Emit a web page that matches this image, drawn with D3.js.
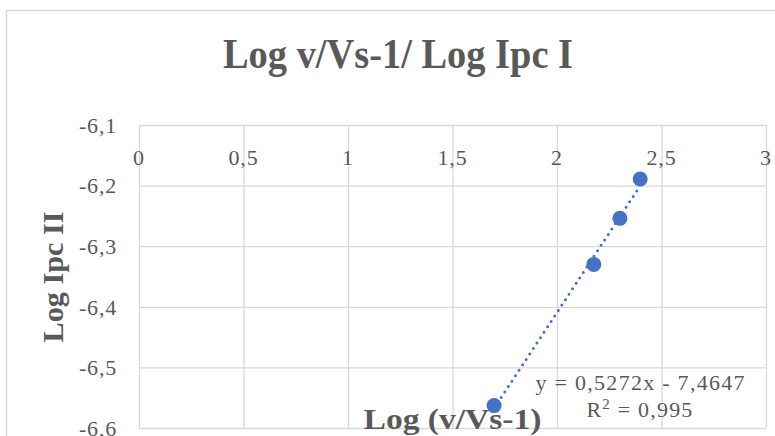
<!DOCTYPE html>
<html>
<head>
<meta charset="utf-8">
<script src="https://cdn.jsdelivr.net/npm/d3@7"></script>
<style>
  body { margin: 0; background: #fff; }
  text { font-family: "Liberation Serif", "DejaVu Serif", serif; fill: #595959; }
</style>
</head>
<body>
<script>
// data
var xValues = [1.699, 2.176, 2.301, 2.398];
var yValues = [-6.563, -6.330, -6.254, -6.189];
var xTicks = [0, 0.5, 1, 1.5, 2, 2.5, 3];
var yTicks = [-6.1, -6.2, -6.3, -6.4, -6.5, -6.6];
var titleText = "Log v/Vs-1/ Log Ipc I";
var xTitle = "Log (v/Vs-1)";
var yTitle = "Log Ipc II";
var eqText = "y = 0,5272x - 7,4647";

var width = 775, height = 436;
var fmt = function(d) { return String(d).replace(".", ","); };

var svg = d3.select("body")
  .append("svg")
  .attr("width", width)
  .attr("height", height);

// chart frame
svg.append("rect")
  .attr("x", 6.5)
  .attr("y", 10.5)
  .attr("width", 800)
  .attr("height", 500)
  .attr("fill", "#fff")
  .attr("stroke", "#d9d9d9")
  .attr("stroke-width", 1.5);

var x = d3.scaleLinear().domain([0, 3]).range([139, 766]);
var y = d3.scaleLinear().domain([-6.6, -6.1]).range([428, 125]);

// vertical gridlines
svg.append("g")
  .attr("transform", "translate(0," + y(-6.6) + ")")
  .call(d3.axisBottom(x).tickValues(xTicks).tickSize(-(y(-6.6) - y(-6.1))).tickFormat(""))
  .call(function(g) {
    g.select(".domain").remove();
    g.selectAll("line").attr("stroke", "#d9d9d9").attr("stroke-width", 1.3);
  });

// horizontal gridlines
svg.append("g")
  .attr("transform", "translate(" + x(0) + ",0)")
  .call(d3.axisLeft(y).tickValues(yTicks).tickSize(-(x(3) - x(0))).tickFormat(""))
  .call(function(g) {
    g.select(".domain").remove();
    g.selectAll("line").attr("stroke", "#d9d9d9").attr("stroke-width", 1.3);
  });

// y tick labels
svg.selectAll(".ylab")
  .data(yTicks)
  .enter()
  .append("text")
  .attr("x", 117)
  .attr("y", function(d) { return y(d); })
  .attr("dy", "0.35em")
  .style("text-anchor", "end")
  .style("font-size", "22px")
  .style("letter-spacing", "0.8px")
  .text(fmt);

// x tick labels (axis crosses at the top)
svg.selectAll(".xlab")
  .data(xTicks)
  .enter()
  .append("text")
  .attr("x", function(d) { return x(d); })
  .attr("y", y(-6.1) + 32)
  .attr("dy", "0.35em")
  .style("text-anchor", "middle")
  .style("font-size", "22px")
  .style("letter-spacing", "0.8px")
  .text(fmt);

// trendline from least squares
var mx = d3.mean(xValues), my = d3.mean(yValues);
var sxy = d3.sum(xValues, function(v, i) { return (v - mx) * (yValues[i] - my); });
var sxx = d3.sum(xValues, function(v) { return (v - mx) * (v - mx); });
var slope = sxy / sxx, icpt = my - slope * mx;
var xr = d3.extent(xValues);

svg.append("line")
  .attr("x1", x(xr[0]))
  .attr("y1", y(slope * xr[0] + icpt))
  .attr("x2", x(xr[1]))
  .attr("y2", y(slope * xr[1] + icpt))
  .attr("stroke", "#4472c4")
  .attr("stroke-width", 3)
  .attr("stroke-linecap", "round")
  .attr("stroke-dasharray", "0 6.5");

// points
svg.selectAll(".pt")
  .data(xValues)
  .enter()
  .append("circle")
  .attr("cx", function(d) { return x(d); })
  .attr("cy", function(d, i) { return y(yValues[i]); })
  .attr("r", 7.5)
  .attr("fill", "#4472c4");

// equation label
svg.append("text")
  .attr("x", 640)
  .attr("y", 390)
  .style("text-anchor", "middle")
  .style("font-size", "22px")
  .attr("textLength", 209)
  .attr("lengthAdjust", "spacing")
  .text(eqText);

var r2 = svg.append("text")
  .attr("x", 640)
  .attr("y", 417)
  .style("text-anchor", "middle")
  .style("font-size", "22px")
  .style("letter-spacing", "1.2px");
r2.append("tspan").text("R");
r2.append("tspan").attr("dy", -8).style("font-size", "15px").text("2");
r2.append("tspan").attr("dy", 8).text(" = 0,995");

// title
svg.append("text")
  .attr("x", 398)
  .attr("y", 68)
  .style("text-anchor", "middle")
  .style("font-size", "42px")
  .style("font-weight", "bold")
  .attr("textLength", 350)
  .attr("lengthAdjust", "spacingAndGlyphs")
  .text(titleText);

// axis titles
svg.append("text")
  .attr("x", (x(0) + x(3)) / 2)
  .attr("y", 429)
  .style("text-anchor", "middle")
  .style("font-size", "29px")
  .style("font-weight", "bold")
  .attr("textLength", 178)
  .attr("lengthAdjust", "spacingAndGlyphs")
  .text(xTitle);

svg.append("text")
  .attr("transform", "translate(63,277) rotate(-90)")
  .style("text-anchor", "middle")
  .style("font-size", "29px")
  .style("font-weight", "bold")
  .attr("textLength", 131)
  .attr("lengthAdjust", "spacingAndGlyphs")
  .text(yTitle);
</script>
</body>
</html>
